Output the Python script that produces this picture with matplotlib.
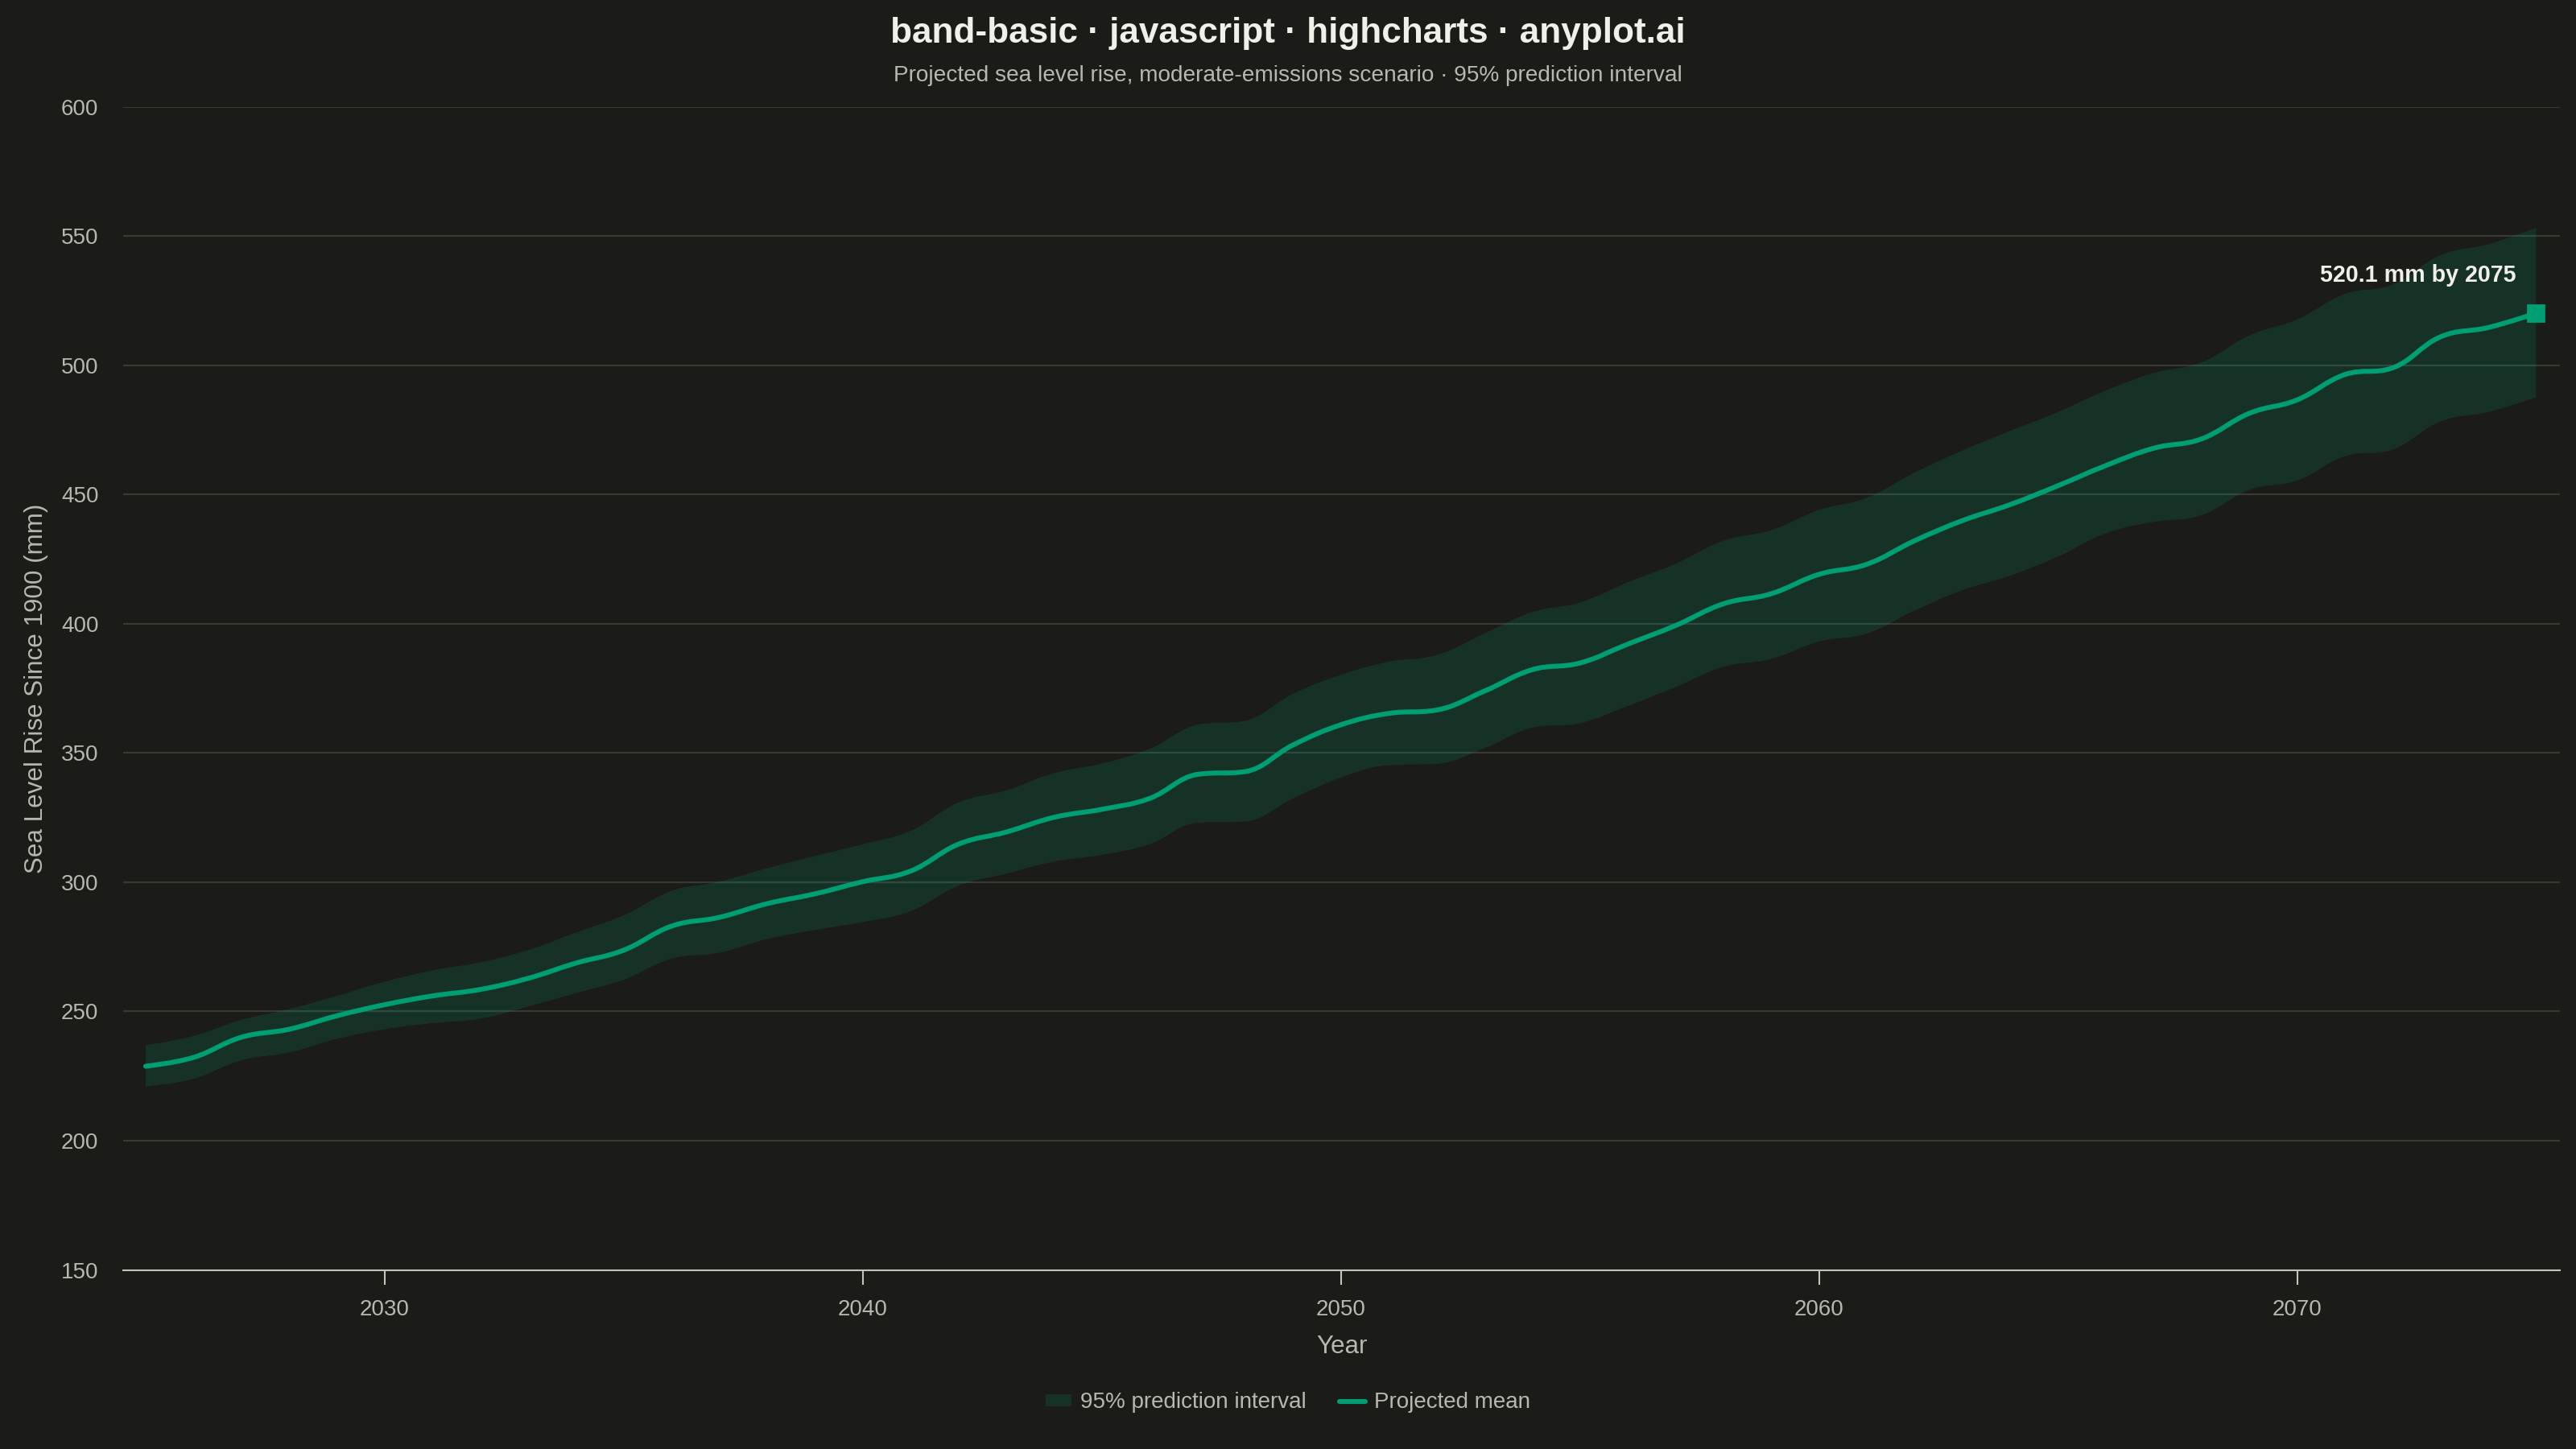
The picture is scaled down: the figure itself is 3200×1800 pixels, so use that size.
import numpy as np
import matplotlib
matplotlib.use("Agg")
import matplotlib.pyplot as plt
from matplotlib.path import Path
from matplotlib.patches import PathPatch, Patch
from matplotlib.lines import Line2D

# ---------------- data ----------------
years = list(range(2025, 2076))
mean_mm = [228.8, 232.2, 240.0, 243.1, 248.3, 252.6, 256.0, 258.5, 262.8, 268.7,
           273.7, 283.0, 286.4, 291.7, 295.5, 300.2, 304.3, 314.7, 319.4, 325.1,
           328.2, 332.4, 341.7, 342.8, 353.1, 360.9, 365.3, 366.6, 373.9, 382.2,
           384.8, 392.1, 399.3, 407.7, 411.6, 419.1, 423.0, 432.1, 439.9, 446.1,
           453.4, 461.2, 467.9, 471.5, 481.4, 486.6, 496.4, 499.0, 511.0, 514.6,
           520.1]
upper_mm = [236.9, 240.5, 246.7, 250.9, 256.0, 261.5, 265.9, 269.0, 273.7, 280.5,
            287.2, 296.6, 300.2, 305.4, 310.1, 314.7, 319.9, 330.8, 335.5, 342.2,
            345.9, 351.6, 360.9, 362.5, 372.9, 380.2, 385.3, 387.9, 396.2, 404.5,
            408.2, 416.0, 423.2, 432.1, 436.2, 444.0, 448.7, 458.5, 467.0, 474.6,
            481.9, 490.2, 497.0, 501.1, 511.5, 517.7, 527.6, 531.2, 542.6, 546.8,
            553.2]
lower_mm = [221.0, 223.9, 231.1, 234.1, 239.4, 243.1, 245.5, 247.2, 251.9, 257.1,
            262.3, 270.4, 272.7, 278.0, 281.5, 284.6, 288.8, 298.6, 303.3, 308.0,
            310.6, 314.7, 323.0, 323.5, 332.4, 340.5, 345.3, 345.8, 351.8, 359.8,
            361.5, 368.2, 375.5, 383.3, 386.4, 393.1, 396.2, 405.1, 413.0, 418.6,
            426.0, 435.0, 439.4, 442.0, 451.8, 455.4, 464.8, 467.4, 478.3, 481.9,
            487.6]
y_ticks = [150, 200, 250, 300, 350, 400, 450, 500, 550, 600]
x_ticks = [2030, 2040, 2050, 2060, 2070]

title = "band-basic · javascript · highcharts · anyplot.ai"
subtitle = "Projected sea level rise, moderate-emissions scenario · 95% prediction interval"

# ---------------- style ----------------
BG = "#1b1b17"
GREEN = "#009E73"
BAND_ALPHA = 0.18
GRID = "#3a3a35"
TEXT = "#f0efe8"
MUTED = "#b8b8b0"

plt.rcParams['font.family'] = ['Liberation Sans', 'DejaVu Sans']


def spline_segments(xs, ys, smoothing=1.5):
    """Highcharts-style spline control points -> (verts, codes) in data coords."""
    xs = np.asarray(xs, float)
    ys = np.asarray(ys, float)
    n = len(xs)
    lcx = xs.copy(); lcy = ys.copy(); rcx = xs.copy(); rcy = ys.copy()
    den = smoothing + 1
    for i in range(1, n - 1):
        lx = (smoothing * xs[i] + xs[i - 1]) / den
        ly = (smoothing * ys[i] + ys[i - 1]) / den
        rx = (smoothing * xs[i] + xs[i + 1]) / den
        ry = (smoothing * ys[i] + ys[i + 1]) / den
        if rx != lx:
            corr = (ry - ly) * (rx - xs[i]) / (rx - lx) + ys[i] - ry
            ly += corr
            ry += corr
        if ly > ys[i - 1] and ly > ys[i]:
            ly = max(ys[i - 1], ys[i]); ry = 2 * ys[i] - ly
        elif ly < ys[i - 1] and ly < ys[i]:
            ly = min(ys[i - 1], ys[i]); ry = 2 * ys[i] - ly
        if ry > ys[i + 1] and ry > ys[i]:
            ry = max(ys[i + 1], ys[i]); ly = 2 * ys[i] - ry
        elif ry < ys[i + 1] and ry < ys[i]:
            ry = min(ys[i + 1], ys[i]); ly = 2 * ys[i] - ry
        lcx[i], lcy[i], rcx[i], rcy[i] = lx, ly, rx, ry
    verts = [(xs[0], ys[0])]
    codes = [Path.MOVETO]
    for i in range(1, n):
        verts += [(rcx[i - 1], rcy[i - 1]), (lcx[i], lcy[i]), (xs[i], ys[i])]
        codes += [Path.CURVE4] * 3
    return verts, codes


fig = plt.figure(figsize=(16, 9), dpi=200, facecolor=BG)
ax = fig.add_axes([0.0478, 0.1236, 0.9460, 0.8027])
ax.set_facecolor(BG)

ax.set_xlim(2024.53, 2075.5)
ax.set_ylim(150, 600)

# band
uv, uc = spline_segments(years, upper_mm)
lv, lc = spline_segments(years[::-1], lower_mm[::-1])
band_verts = uv + [lv[0]] + lv[1:] + [uv[0]]
band_codes = uc + [Path.LINETO] + lc[1:] + [Path.CLOSEPOLY]
band = PathPatch(Path(band_verts, band_codes), facecolor=GREEN, alpha=BAND_ALPHA,
                 edgecolor='none', transform=ax.transData, zorder=2)
ax.add_patch(band)

# mean line
mv, mc = spline_segments(years, mean_mm)
line = PathPatch(Path(mv, mc), facecolor='none', edgecolor=GREEN, linewidth=2.2,
                 capstyle='round', joinstyle='round', transform=ax.transData, zorder=3)
ax.add_patch(line)

# end marker + annotation
ax.plot([years[-1]], [mean_mm[-1]], marker='s', markersize=7, color=GREEN,
        linestyle='none', zorder=4, clip_on=False)
ax.annotate(f"{mean_mm[-1]:.1f} mm by {years[-1]}", xy=(years[-1], mean_mm[-1]),
            xytext=(-9, 17), textcoords='offset points', ha='right', va='center',
            fontsize=10.3, fontweight='bold', color=TEXT, zorder=5)

# axes styling
ax.set_yticks(y_ticks)
ax.set_xticks(x_ticks)
ax.grid(axis='y', color=GRID, linewidth=0.75, zorder=0)
ax.set_axisbelow(True)
for s in ['top', 'right', 'left']:
    ax.spines[s].set_visible(False)
ax.spines['bottom'].set_color('#c4c4bc')
ax.spines['bottom'].set_linewidth(0.75)
ax.spines['bottom'].set_zorder(6)
ax.tick_params(axis='y', length=0, pad=11, labelsize=10, labelcolor=MUTED)
ax.tick_params(axis='x', length=6.5, width=0.75, color='#c4c4bc', pad=6.5,
               labelsize=10, labelcolor=MUTED)

ax.set_xlabel("Year", fontsize=11.3, color=MUTED, labelpad=6.5)
fig.text(0.014, 0.5 * (0.1236 + 0.9263), "Sea Level Rise Since 1900 (mm)", rotation=90,
         ha='center', va='center', fontsize=11.3, color=MUTED)

fig.text(0.5, 0.977, title, ha='center', va='center', fontsize=15.9,
         fontweight='bold', color=TEXT)
fig.text(0.5, 0.948, subtitle, ha='center', va='center', fontsize=10.1, color=MUTED)

handles = [Patch(facecolor=GREEN, alpha=BAND_ALPHA, edgecolor='none'),
           Line2D([0], [0], color=GREEN, linewidth=2.2, solid_capstyle='round')]
leg = fig.legend(handles, ["95% prediction interval", "Projected mean"], loc='center',
                 bbox_to_anchor=(0.5, 0.032), ncol=2, frameon=False, fontsize=10,
                 handlelength=1.15, handleheight=0.45, handletextpad=0.4,
                 columnspacing=1.5, labelcolor=MUTED)

fig.savefig("out.png", dpi=200, facecolor=BG)
